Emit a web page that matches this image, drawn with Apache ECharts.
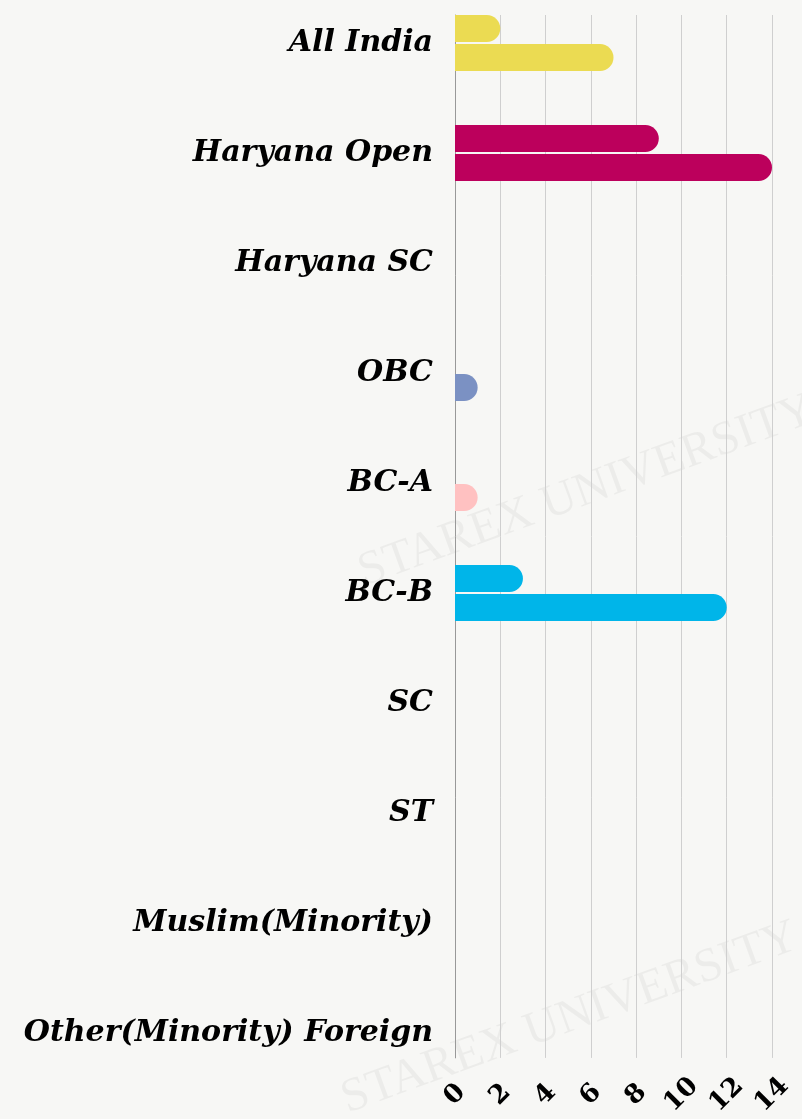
<!DOCTYPE html>
<html>
<head>
<meta charset="utf-8">
<script src="https://cdn.jsdelivr.net/npm/echarts@6/dist/echarts.min.js"></script>
<style>
html,body{margin:0;padding:0;background:#f7f7f5;overflow:hidden;}
#main{width:802px;height:1131px;margin-top:-12px;}
</style>
</head>
<body>
<div id="main"></div>
<script>
const categories = ['All India','Haryana Open','Haryana SC','OBC','BC-A','BC-B','SC','ST','Muslim(Minority)','Other(Minority) Foreign'];
const seriesA = [2, 9, 0, 0, 0, 3, 0, 0, 0, 0];
const seriesB = [7, 14, 0, 1, 1, 12, 0, 0, 0, 0];
const categoryColors = ['#EBDB52','#BC005C','#9B59B6','#7B91C3','#FFC1C1','#00B5E9','#F39C12','#2ECC71','#E74C3C','#34495E'];
const xTicks = { min: 0, max: 14, interval: 2 };

const chart = echarts.init(document.getElementById('main'));
const labelFont = 'DejaVu Serif';
function mkData(vals){ return vals.map((v,i)=>({value:v, itemStyle:{color:categoryColors[i]}})); }
chart.setOption({
  backgroundColor: '#f7f7f5',
  animation: false,
  graphic: [
    {type:'text', left: 352, top: 398, rotation: 0.35, style:{text:'STAREX UNIVERSITY', font:'48px "Liberation Serif"', fill:'rgba(0,0,0,0.045)'}},
    {type:'text', left: 335, top: 925, rotation: 0.35, style:{text:'STAREX UNIVERSITY', font:'48px "Liberation Serif"', fill:'rgba(0,0,0,0.045)'}}
  ],
  grid: [
    {left: 455, right: 30, top: 0, height: 1100, containLabel: false},
    {left: 455, right: 30, top: 27, bottom: 61, containLabel: false}
  ],
  xAxis: [
    {gridIndex: 0, type: 'value', min: xTicks.min, max: xTicks.max, interval: xTicks.interval, show: false},
    {gridIndex: 1, type: 'value', min: xTicks.min, max: xTicks.max, interval: xTicks.interval,
     axisLine:{show:false}, axisTick:{show:false},
     splitLine:{show:true, lineStyle:{color:'#cfcfcf', width:1}},
     axisLabel:{rotate:45, align:'center', verticalAlign:'middle', margin:37, color:'#000',
       fontFamily: labelFont, fontWeight:'bold', fontSize:26}}
  ],
  yAxis: [
    {gridIndex: 0, type: 'category', inverse: true, data: categories,
     axisLine:{show:false}, axisTick:{show:false},
     axisLabel:{margin:22, color:'#000', fontFamily: labelFont, fontStyle:'italic', fontWeight:'bold', fontSize:30}},
    {gridIndex: 1, type: 'value', min: 0, max: 1,
     axisLine:{show:true, lineStyle:{color:'#999', width:1}}, axisTick:{show:false},
     axisLabel:{show:false}, splitLine:{show:false}}
  ],
  series: [
    {name:'Series A', type:'bar', xAxisIndex:0, yAxisIndex:0, data: mkData(seriesA), barWidth:27, barGap:'7%',
     itemStyle:{borderRadius:[0,14,14,0]}},
    {name:'Series B', type:'bar', xAxisIndex:0, yAxisIndex:0, data: mkData(seriesB), barWidth:27, barGap:'7%',
     itemStyle:{borderRadius:[0,14,14,0]}}
  ]
});
</script>
</body>
</html>
